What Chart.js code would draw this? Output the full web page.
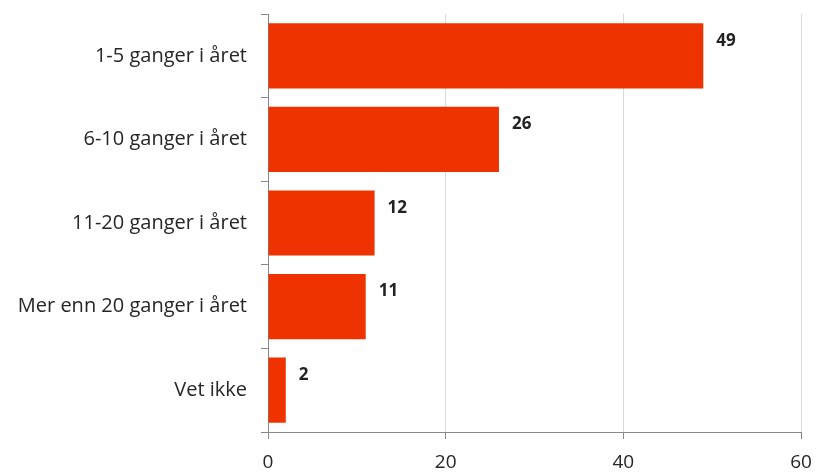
<!DOCTYPE html>
<html>
<head>
<meta charset="utf-8">
<script src="https://cdn.jsdelivr.net/npm/chart.js@4"></script>
<style>
  html, body { margin: 0; padding: 0; background: #fff; }
  #wrap { width: 817px; height: 472px; }
</style>
</head>
<body>
<div id="wrap"><canvas id="freq"></canvas></div>
<script>
const categories = ["1-5 ganger i året", "6-10 ganger i året", "11-20 ganger i året", "Mer enn 20 ganger i året", "Vet ikke"];
const values = [49, 26, 12, 11, 2];
const xTicks = [0, 20, 40, 60];

// bold value labels to the right of each bar, a bit above centre
const valueLabels = {
    id: 'valueLabels',
    afterDatasetsDraw(chart) {
        const ctx = chart.ctx;
        const meta = chart.getDatasetMeta(0);
        ctx.save();
        ctx.font = 'bold 17px "Open Sans"';
        ctx.fillStyle = '#222';
        ctx.textAlign = 'left';
        ctx.textBaseline = 'middle';
        meta.data.forEach((bar, i) => {
            ctx.fillText(values[i], bar.x + 13, bar.y - 15);
        });
        ctx.restore();
    }
};

const chart = document.getElementById("freq");
new Chart(chart, {
    type: 'bar',
    data: {
        labels: categories,
        datasets: [{
            data: values,
            backgroundColor: "#EE3300",
            borderWidth: 0,
            categoryPercentage: 1,
            barPercentage: 0.78
        }]
    },
    options: {
        indexAxis: 'y',
        responsive: true,
        maintainAspectRatio: false,
        animation: false,
        layout: { padding: { top: 14, right: 0, left: 0, bottom: 0 } },
        plugins: { legend: { display: false }, tooltip: { enabled: false } },
        scales: {
            x: {
                min: 0,
                max: 60,
                afterBuildTicks(scale) { scale.ticks = xTicks.map(v => ({ value: v })); },
                afterFit(scale) { scale.height = 40; scale.paddingRight = 16; },
                grid: { color: '#d9d9d9', tickColor: '#888', tickLength: 7 },
                border: { color: '#888' },
                ticks: { font: { family: 'Open Sans', size: 19 }, color: '#262626', padding: 12 }
            },
            y: {
                afterFit(scale) { scale.width = 268; scale.paddingTop = 0; scale.paddingBottom = 0; },
                grid: { drawOnChartArea: false, tickColor: '#888', tickLength: 7, offset: true },
                border: { color: '#888' },
                ticks: { font: { family: 'Open Sans', size: 20 }, color: '#262626', padding: 14 }
            }
        }
    },
    plugins: [valueLabels]
});
</script>
</body>
</html>
